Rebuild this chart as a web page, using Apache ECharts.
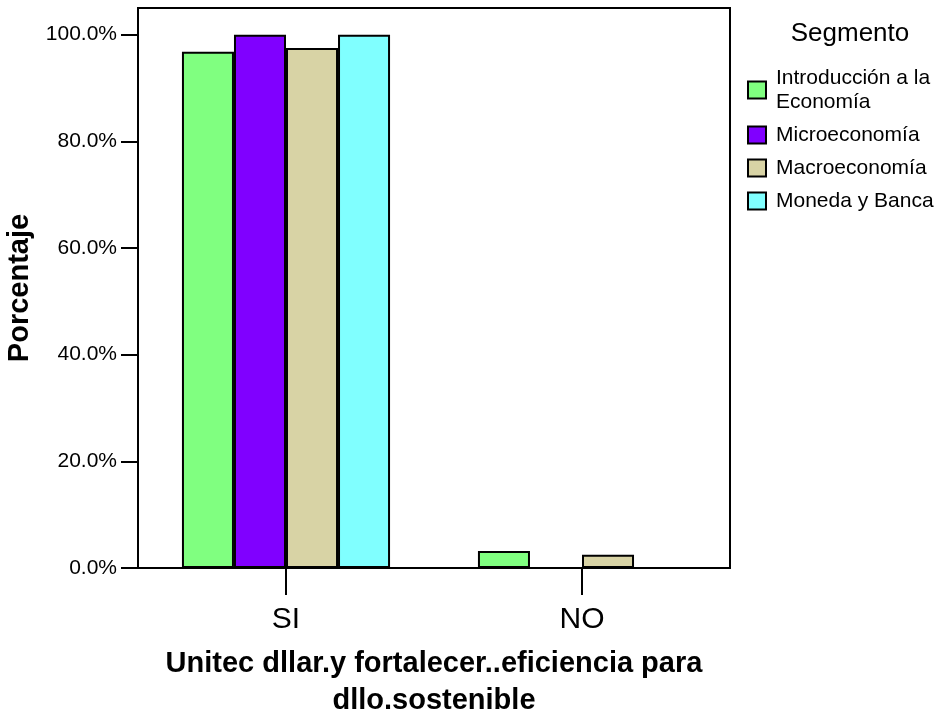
<!DOCTYPE html>
<html>
<head>
<meta charset="utf-8">
<script src="https://cdn.jsdelivr.net/npm/echarts@6/dist/echarts.min.js"></script>
<style>html,body{margin:0;padding:0;background:#fff}#c{width:941px;height:717px}</style>
</head>
<body>
<div id="c"></div>
<script>
const categories = ['SI', 'NO'];
const seriesNames = ['Introducción a la\nEconomía', 'Microeconomía', 'Macroeconomía', 'Moneda y Banca'];
const introValues = [96.8, 3.2];
const microValues = [100.0, 0.0];
const macroValues = [97.5, 2.5];
const monedaValues = [100.0, 0.0];
const yTicks = [0, 20, 40, 60, 80, 100];
const colors = ['#80FF80', '#8000FF', '#D8D3A5', '#80FFFF'];
const allValues = [introValues, microValues, macroValues, monedaValues];

const font = 'Liberation Sans, Arial, sans-serif';
const chart = echarts.init(document.getElementById('c'), null, {renderer: 'canvas'});
chart.setOption({
  animation: false,
  textStyle: {fontFamily: font},
  grid: {left: 138, right: 211, top: 8, bottom: 149, show: true, borderColor: '#000', borderWidth: 2,
    backgroundColor: 'transparent', containLabel: false, outerBoundsMode: 'none'},
  graphic: [{
    type: 'text', x: 850, y: 34,
    style: {text: 'Segmento', font: '26px ' + font, fill: '#000', textAlign: 'center', textVerticalAlign: 'middle'}
  }],
  legend: {
    orient: 'vertical', left: 742, top: 61, itemWidth: 18, itemHeight: 17, itemGap: 9,
    icon: 'rect',
    itemStyle: {borderColor: '#000', borderWidth: 2},
    textStyle: {fontSize: 21, color: '#000', fontFamily: font, lineHeight: 24, padding: [0, 0, 0, 5]},
    data: seriesNames
  },
  xAxis: {
    type: 'category', data: categories,
    axisLine: {show: true, lineStyle: {color: '#000', width: 2}},
    axisTick: {show: true, alignWithLabel: true, length: 27, lineStyle: {color: '#000', width: 2}},
    axisLabel: {fontSize: 30, color: '#000', margin: 37},
    name: 'Unitec dllar.y fortalecer..eficiencia para\ndllo.sostenible',
    nameLocation: 'middle', nameGap: 77,
    nameTextStyle: {fontSize: 29, fontWeight: 'bold', color: '#000', lineHeight: 37}
  },
  yAxis: {
    type: 'value', min: 0, max: 105, interval: 20,
    splitLine: {show: false},
    axisLine: {show: true, lineStyle: {color: '#000', width: 2}},
    axisTick: {show: true, length: 17, customValues: yTicks, lineStyle: {color: '#000', width: 2}},
    axisLabel: {fontSize: 21, color: '#000', margin: 21, customValues: yTicks,
      formatter: v => v.toFixed(1) + '%'},
    name: 'Porcentaje', nameLocation: 'middle', nameGap: 95,
    nameTextStyle: {fontSize: 29, fontWeight: 'bold', color: '#000'}
  },
  series: seriesNames.map((n, i) => ({
    name: n, type: 'bar', data: allValues[i],
    barGap: '0%', barCategoryGap: '29.7%',
    itemStyle: {color: colors[i], borderColor: '#000', borderWidth: 2}
  }))
});
</script>
</body>
</html>
